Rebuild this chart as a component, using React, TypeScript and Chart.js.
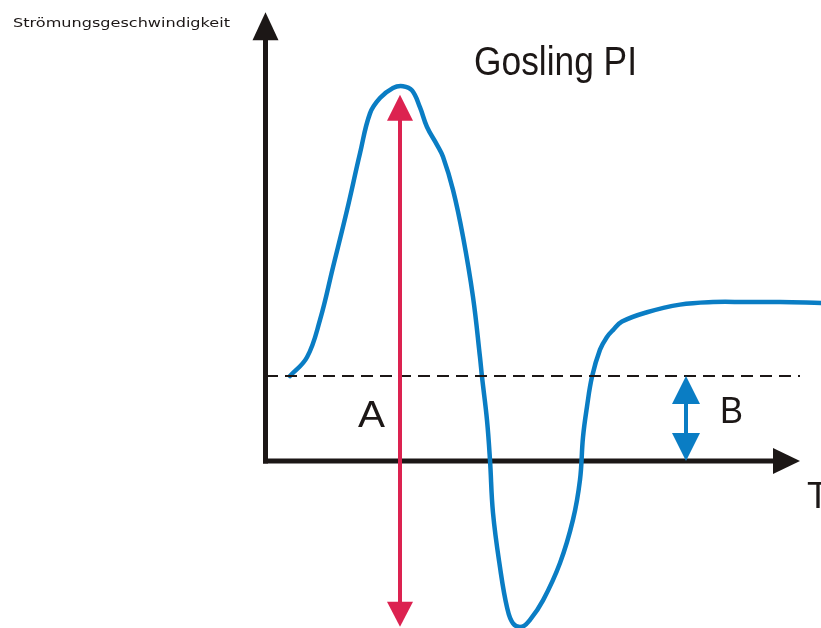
import React, { useEffect, useRef } from "react";
import { Chart, registerables } from "chart.js";

Chart.register(...registerables);

// ---- data (time in arbitrary units, velocity relative to the mean flow = 1) ----
const timeValues = [
  0.24, 0.41, 0.54, 0.67, 0.81, 0.94, 1.04, 1.14, 1.27, 1.37, 1.46, 1.54, 1.61, 1.71, 1.77,
  1.87, 1.97, 2.07, 2.14, 2.16, 2.21, 2.24, 2.27, 2.34, 2.41, 2.47, 2.56, 2.64, 2.77, 2.94,
  3.07, 3.14, 3.17, 3.21, 3.26, 3.34, 3.41, 3.47, 3.56, 3.81, 4.14, 4.47, 4.81, 5.14, 5.55,
];
const velocityValues = [
  1.0, 1.22, 1.66, 2.28, 2.95, 3.62, 4.09, 4.27, 4.39, 4.41, 4.36, 4.16, 3.93, 3.72, 3.58,
  3.19, 2.64, 1.93, 1.22, 0.99, 0.48, 0.01, -0.61, -1.25, -1.72, -1.91, -1.95, -1.87, -1.64, -1.2,
  -0.69, -0.22, 0.28, 0.64, 0.99, 1.31, 1.46, 1.54, 1.64, 1.75, 1.84, 1.87, 1.87, 1.87, 1.86,
];
const meanVelocity = 1.0;

// axis / annotation values in data units
const timeRange = [-2.66, 5.55];
const velocityRange = [-1.965, 5.424];
const axisEndTime = 5.34;
const yAxisTopVelocity = 5.28;
const peakArrowTime = 1.34;
const peakArrowRange = [4.31, -1.95];
const meanArrowTime = 4.2;

const titleText = "Gosling PI";
const yAxisLabel = "Strömungsgeschwindigkeit";
const xAxisLabel = "T";
const labelA = "A";
const labelB = "B";

const AXIS_COLOR = "#1c1716";
const CURVE_COLOR = "#0a7dc4";
const RED = "#dc2250";

function fitText(ctx: CanvasRenderingContext2D, text: string, left: number, baseline: number, width: number, font: string) {
  ctx.font = font;
  const w = ctx.measureText(text).width;
  ctx.save();
  ctx.translate(left, baseline);
  ctx.scale(width / w, 1);
  ctx.fillText(text, 0, 0);
  ctx.restore();
}

function vArrowHead(ctx: CanvasRenderingContext2D, x: number, tipY: number, dir: number, half: number, len: number) {
  ctx.beginPath();
  ctx.moveTo(x, tipY);
  ctx.lineTo(x - half, tipY + dir * len);
  ctx.lineTo(x + half, tipY + dir * len);
  ctx.closePath();
  ctx.fill();
}

const overlay = {
  id: "overlay",
  beforeDatasetsDraw(chart: any) {
    const { ctx, scales } = chart;
    const X = (v: number) => scales.x.getPixelForValue(v);
    const Y = (v: number) => scales.y.getPixelForValue(v);
    ctx.save();
    ctx.fillStyle = AXIS_COLOR;
    ctx.strokeStyle = AXIS_COLOR;
    ctx.lineCap = "butt";
    // y axis
    const x0 = X(0) - 0.5;
    const y0 = Y(0);
    const yTop = Y(yAxisTopVelocity);
    ctx.lineWidth = 5;
    ctx.beginPath();
    ctx.moveTo(x0, y0 + 2.5);
    ctx.lineTo(x0, yTop + 20);
    ctx.stroke();
    vArrowHead(ctx, x0, yTop, 1, 13, 28);
    // x axis
    const xEnd = X(axisEndTime);
    ctx.lineWidth = 5;
    ctx.beginPath();
    ctx.moveTo(x0 - 2.5, y0);
    ctx.lineTo(xEnd - 20, y0);
    ctx.stroke();
    ctx.beginPath();
    ctx.moveTo(xEnd, y0);
    ctx.lineTo(xEnd - 27, y0 - 13);
    ctx.lineTo(xEnd - 27, y0 + 13);
    ctx.closePath();
    ctx.fill();

    // texts
    ctx.textBaseline = "alphabetic";
    ctx.textAlign = "left";
    fitText(ctx, yAxisLabel, 13, 27, 217, "12.5px 'DejaVu Sans'");
    fitText(ctx, titleText, X(2.08), Y(4.54), 163, "41px 'Liberation Sans'");
    fitText(ctx, labelA, X(0.92), Y(0.4), 27, "37px 'Liberation Sans'");
    fitText(ctx, labelB, X(4.54), Y(0.447), 23, "36px 'Liberation Sans'");
    ctx.font = "36px 'Liberation Sans'";
    ctx.fillText(xAxisLabel, X(5.41), Y(-0.553));
    ctx.restore();
  },
  afterDatasetsDraw(chart: any) {
    const { ctx, scales } = chart;
    const X = (v: number) => scales.x.getPixelForValue(v);
    const Y = (v: number) => scales.y.getPixelForValue(v);
    ctx.save();
    // red arrow A
    const ax = X(peakArrowTime);
    const aTop = Y(peakArrowRange[0]);
    const aBot = Y(peakArrowRange[1]);
    ctx.fillStyle = RED;
    ctx.strokeStyle = RED;
    ctx.lineWidth = 4;
    ctx.beginPath();
    ctx.moveTo(ax, aTop + 20);
    ctx.lineTo(ax, aBot - 20);
    ctx.stroke();
    vArrowHead(ctx, ax, aTop, 1, 13, 26);
    vArrowHead(ctx, ax, aBot, -1, 13, 25);
    // blue arrow B
    const bx = X(meanArrowTime);
    const bTop = Y(meanVelocity);
    const bBot = Y(0);
    ctx.fillStyle = CURVE_COLOR;
    ctx.strokeStyle = CURVE_COLOR;
    ctx.beginPath();
    ctx.moveTo(bx, bTop + 20);
    ctx.lineTo(bx, bBot - 20);
    ctx.stroke();
    vArrowHead(ctx, bx, bTop, 1, 14, 28);
    vArrowHead(ctx, bx, bBot, -1, 14, 28);
    ctx.restore();
  },
};

export default function App() {
  const ref = useRef<HTMLCanvasElement | null>(null);
  useEffect(() => {
    if (!ref.current) return;
    const curve = timeValues.map((t, i) => ({ x: t, y: velocityValues[i] }));
    const chart = new Chart(ref.current, {
      type: "line",
      data: {
        datasets: [
          {
            data: [
              { x: 0, y: meanVelocity },
              { x: axisEndTime, y: meanVelocity },
            ],
            borderColor: AXIS_COLOR,
            borderWidth: 2,
            borderDash: [12, 7],
            pointRadius: 0,
            tension: 0,
          },
          {
            data: curve,
            borderColor: CURVE_COLOR,
            borderWidth: 4.5,
            pointRadius: 0,
            tension: 0.4,
            borderCapStyle: "round",
            borderJoinStyle: "round",
          },
        ],
      } as any,
      options: {
        animation: false,
        responsive: false,
        devicePixelRatio: 1,
        events: [],
        layout: { padding: 0 },
        plugins: { legend: { display: false }, tooltip: { enabled: false }, title: { display: false } },
        scales: {
          x: { type: "linear", display: false, min: timeRange[0], max: timeRange[1] },
          y: { type: "linear", display: false, min: velocityRange[0], max: velocityRange[1] },
        },
      } as any,
      plugins: [overlay],
    });
    return () => chart.destroy();
  }, []);
  return (
    <div style={{ position: "absolute", left: 0, top: 0, width: 821, height: 628, background: "#fff" }}>
      <canvas ref={ref} width={821} height={628} style={{ display: "block" }} />
    </div>
  );
}
